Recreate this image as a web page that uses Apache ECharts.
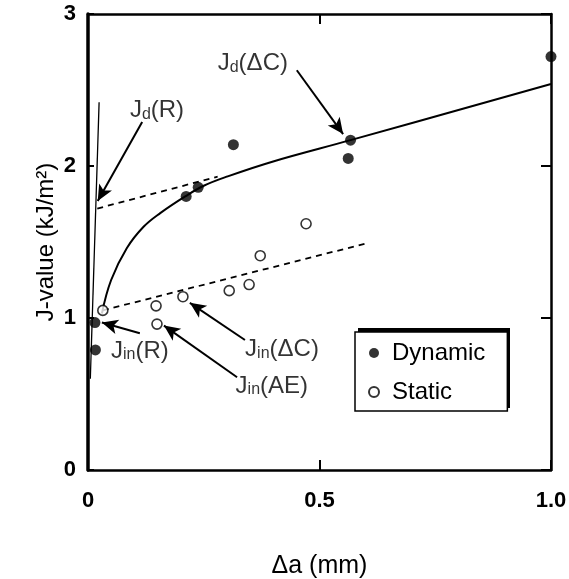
<!DOCTYPE html>
<html>
<head>
<meta charset="utf-8">
<script src="https://cdn.jsdelivr.net/npm/echarts@6/dist/echarts.min.js"></script>
<style>
  html, body { margin: 0; padding: 0; background: #fff; }
  #chart { width: 569px; height: 579px; }
</style>
</head>
<body>
<div id="chart"></div>
<script>
// values (Δa in mm, J in kJ/m²)
var dynamicPts = [[0.015, 0.97], [0.016, 0.79], [0.212, 1.80], [0.238, 1.86],
                  [0.314, 2.14], [0.562, 2.05], [0.567, 2.17], [1.0, 2.72]];
var staticPts = [[0.032, 1.05], [0.147, 1.08], [0.149, 0.96], [0.205, 1.14],
                 [0.305, 1.18], [0.348, 1.22], [0.372, 1.41], [0.471, 1.62]];
var fitCurve = [[0.03, 1.03], [0.05, 1.25], [0.084, 1.46], [0.12, 1.60], [0.156, 1.69],
                [0.21, 1.80], [0.25, 1.87], [0.30, 1.93], [0.40, 2.03], [0.567, 2.17], [1.0, 2.54]];
var dynDashed = [[0.02, 1.72], [0.28, 1.93]];
var staDashed = [[0.032, 1.05], [0.60, 1.49]];
var bluntLine = [[0.005, 0.6], [0.024, 2.42]];
var xTicks = ['0', '0.5', '1.0'];

// annotation: [label, subscript, rest, text position, arrow from, arrow to]
var notes = [
  ['J', 'd', '(R)', [0.149, 2.37], [0.117, 2.29], [0.021, 1.77]],
  ['J', 'd', '(\u0394C)', [0.356, 2.68], [0.451, 2.63], [0.551, 2.21]],
  ['J', 'in', '(R)', [0.112, 0.79], [0.112, 0.90], [0.030, 0.97]],
  ['J', 'in', '(\u0394C)', [0.419, 0.80], [0.339, 0.855], [0.220, 1.10]],
  ['J', 'in', '(AE)', [0.397, 0.56], [0.322, 0.61], [0.164, 0.95]]
];

var font = '"Liberation Sans", Arial, sans-serif';
var chart = echarts.init(document.getElementById('chart'));

var noteLabels = notes.map(function (n) {
  return {
    value: n[3],
    label: {
      show: true, position: 'inside',
      formatter: '{a|' + n[0] + '}{s|' + n[1] + '}{a|' + n[2] + '}',
      rich: {
        a: { fontFamily: font, fontSize: 24, color: '#000', verticalAlign: 'bottom', lineHeight: 26 },
        s: { fontFamily: font, fontSize: 16, color: '#000', verticalAlign: 'bottom', lineHeight: 23 }
      }
    }
  };
});
var arrows = notes.map(function (n) {
  return [{ coord: n[4] }, { coord: n[5] }];
});

var lineCommon = { type: 'line', showSymbol: false, symbol: 'none', silent: true };
var frameLine = function (w) {
  return { show: true, onZero: false, lineStyle: { color: '#000', width: w } };
};

chart.setOption({
  animation: false,
  backgroundColor: '#fff',
  grid: { left: 88, right: 18, top: 14, bottom: 109, containLabel: false, outerBoundsMode: 'none' },
  graphic: [{
    type: 'rect', left: 358, top: 328, z: 0,
    shape: { width: 152, height: 80 },
    style: { fill: '#000' }
  }],
  legend: {
    left: 355, top: 332,
    orient: 'vertical',
    data: ['Dynamic', 'Static'],
    itemWidth: 10, itemHeight: 10, itemGap: 15,
    padding: [9, 22, 7, 13],
    backgroundColor: '#fff',
    borderColor: '#000', borderWidth: 1.5,
    textStyle: { fontFamily: font, fontSize: 24, color: '#000', padding: [0, 0, 0, 8] }
  },
  xAxis: [{
    type: 'value', min: 0, max: 1, interval: 0.5,
    name: '\u0394a (mm)', nameLocation: 'middle', nameGap: 84, nameMoveOverlap: false,
    nameTextStyle: { fontFamily: font, fontSize: 25, color: '#000' },
    axisLine: frameLine(2.5),
    axisTick: { inside: true, length: 10, lineStyle: { color: '#000', width: 2 } },
    axisLabel: {
      margin: 20, fontFamily: font, fontSize: 22, fontWeight: 'bold', color: '#000',
      formatter: function (v) { return xTicks[Math.round(v * 2)]; }
    },
    splitLine: { show: false }
  }, {
    type: 'value', min: 0, max: 1, interval: 0.5, position: 'top',
    axisLine: frameLine(2.5),
    axisTick: { inside: true, length: 10, lineStyle: { color: '#000', width: 2 } },
    axisLabel: { show: false }, splitLine: { show: false }
  }],
  yAxis: [{
    type: 'value', min: 0, max: 3, interval: 1,
    name: 'J-value (kJ/m\u00b2)', nameLocation: 'middle', nameGap: 30, nameRotate: 90,
    nameMoveOverlap: false,
    nameTextStyle: { fontFamily: font, fontSize: 24, color: '#000' },
    axisLine: frameLine(3.5),
    axisTick: { inside: true, length: 6, lineStyle: { color: '#000', width: 2 } },
    axisLabel: { margin: 12, fontFamily: font, fontSize: 22, fontWeight: 'bold', color: '#000' },
    splitLine: { show: false }
  }, {
    type: 'value', min: 0, max: 3, interval: 1, position: 'right',
    axisLine: frameLine(2.5),
    axisTick: { inside: true, length: 10, lineStyle: { color: '#000', width: 2 } },
    axisLabel: { show: false }, splitLine: { show: false }
  }],
  series: [
    Object.assign({ data: fitCurve, smooth: 0.4, lineStyle: { color: '#000', width: 2 } }, lineCommon),
    Object.assign({ data: dynDashed, lineStyle: { color: '#000', width: 1.8, type: [6, 5] } }, lineCommon),
    Object.assign({ data: staDashed, lineStyle: { color: '#000', width: 1.8, type: [6, 5] } }, lineCommon),
    Object.assign({ data: bluntLine, lineStyle: { color: '#000', width: 1.3 } }, lineCommon),
    {
      name: 'Dynamic', type: 'scatter', data: dynamicPts, symbol: 'circle', symbolSize: 11,
      itemStyle: { color: '#000' }, z: 5
    },
    {
      name: 'Static', type: 'scatter', data: staticPts, symbol: 'circle', symbolSize: 10,
      itemStyle: { color: '#fff', borderColor: '#000', borderWidth: 1.6 }, z: 5
    },
    {
      type: 'scatter', data: noteLabels, symbolSize: 0, silent: true, z: 6,
      markLine: {
        silent: true, symbol: ['none', 'arrow'], symbolSize: [11, 16],
        label: { show: false },
        lineStyle: { color: '#000', width: 2, type: 'solid' },
        data: arrows
      }
    }
  ]
});
</script>
</body>
</html>
